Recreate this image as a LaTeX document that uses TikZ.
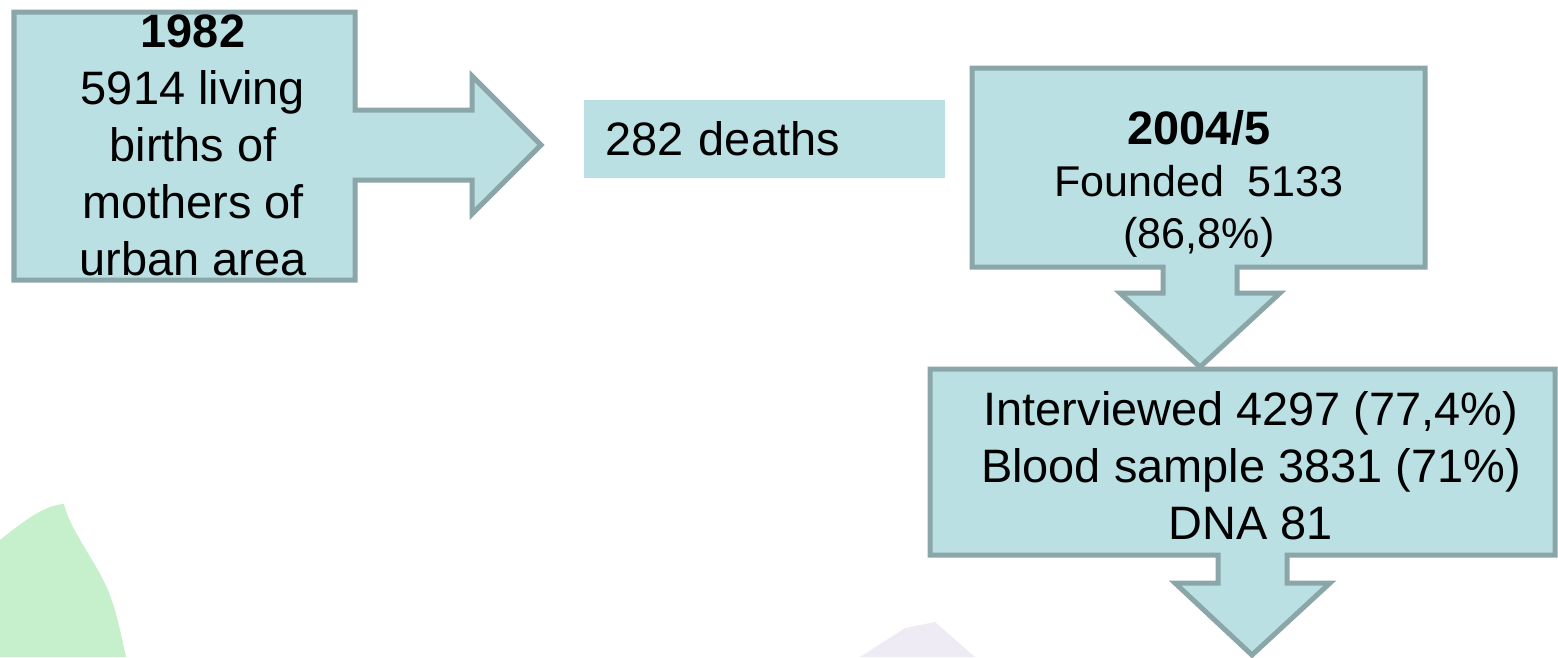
\documentclass[tikz,border=0pt]{standalone}
\usepackage{fontspec}
\setmainfont{Liberation Sans}
\usetikzlibrary{positioning}
\definecolor{boxfill}{HTML}{BBE0E3}
\definecolor{boxline}{HTML}{8BA6A8}
\definecolor{blobgreen}{HTML}{C6F0CC}
\definecolor{bloblilac}{HTML}{EEEBF4}

\tikzset{
  flowbox/.style={fill=boxfill, draw=boxline, line width=2.85pt, line join=miter},
  bigtext/.style={inner sep=0pt, align=center, font=\fontsize{26.7}{32.4}\selectfont},
  smalltext/.style={inner sep=0pt, align=center, font=\fontsize{24.5}{29.6}\selectfont}
}

\begin{document}
\begin{tikzpicture}[x=0.02cm, y=-0.02cm]
\useasboundingbox (0,0) rectangle (1558,657);

% faint background marks
\fill[blobgreen] (0,540) .. controls (25,520) and (45,505) .. (64,504)
  .. controls (70,530) and (95,560) .. (108,590)
  .. controls (118,615) and (122,640) .. (126,657) -- (0,657) -- cycle;
\fill[bloblilac] (860,657) -- (905,628) -- (935,622) -- (975,657) -- cycle;

% 1982 box with its arrow
\draw[flowbox] (14,12) -- (355,12) -- (355,110) -- (472,110) -- (472,76)
  -- (541,145) -- (472,214) -- (472,180) -- (355,180) -- (355,280)
  -- (14,280) -- cycle;
\node[bigtext] (births) at (193,145)
  {\textbf{1982}\\5914 living\\births of\\mothers of\\urban area};

% deaths
\node[fill=boxfill, minimum width=7.22cm, minimum height=1.56cm, inner xsep=0.42cm,
  text width=6.38cm, align=left, font=\fontsize{26.7}{32.4}\selectfont]
  (deaths) at (764.5,139) {282 deaths};

% 2004/5 box with its arrow
\draw[flowbox] (972,68) -- (1425,68) -- (1425,267) -- (1237,267) -- (1237,293)
  -- (1280,293) -- (1200,367) -- (1120,293) -- (1163,293) -- (1163,267)
  -- (972,267) -- cycle;
\node[smalltext] (found) at (1199,184)
  {{\bfseries\fontsize{26.7}{29.6}\selectfont 2004/5}\\Founded\ \ 5133\\(86,8\%)};

% interviewed box with its arrow
\draw[flowbox] (930,369) -- (1555,369) -- (1555,555) -- (1287,555) -- (1287,583)
  -- (1330,583) -- (1252,655) -- (1175,583) -- (1218,583) -- (1218,555)
  -- (930,555) -- cycle;
\node[bigtext] (interviewed) at (1251,466)
  {Interviewed 4297 (77,4\%)\\Blood sample 3831 (71\%)\\DNA 81};

\end{tikzpicture}
\end{document}
